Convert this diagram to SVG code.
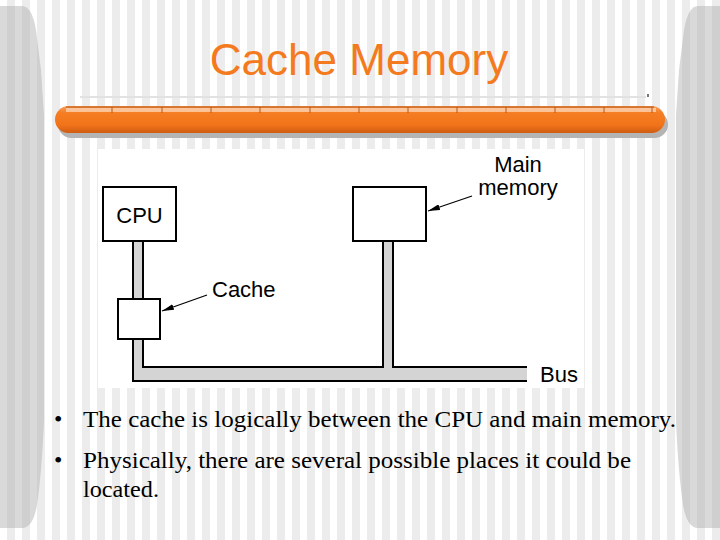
<svg xmlns="http://www.w3.org/2000/svg" width="720" height="540" viewBox="0 0 720 540">
<defs>
<pattern id="bgStripes" x="0" y="0" width="15" height="10" patternUnits="userSpaceOnUse">
<rect width="15" height="10" fill="#ffffff"/>
<rect x="7" width="8" height="10" fill="#ececec"/>
</pattern>
<pattern id="sideStripes" x="0" y="0" width="15" height="10" patternUnits="userSpaceOnUse">
<rect width="15" height="10" fill="#d9d9d9"/>
<rect x="7" width="8" height="10" fill="#cfcfcf"/>
</pattern>
<linearGradient id="barGrad" x1="0" y1="0" x2="0" y2="1">
<stop offset="0" stop-color="#f8a060"/>
<stop offset="0.25" stop-color="#f57d22"/>
<stop offset="0.7" stop-color="#f2741a"/>
<stop offset="1" stop-color="#cf5c10"/>
</linearGradient>
<marker id="arrow" viewBox="0 0 12 6" refX="12" refY="3" markerWidth="12" markerHeight="6" markerUnits="userSpaceOnUse" orient="auto">
<path d="M0,0 L12,3 L0,6 Z" fill="#000"/>
</marker>
<style>
.box{fill:#ffffff;stroke:#000;stroke-width:2}
.lbl{font-family:"Liberation Sans",Arial,sans-serif;font-size:22px;fill:#000}
.bus{fill:#d4d4d4;stroke:none}
.busline{fill:none;stroke:#000;stroke-width:2}
.ptr{fill:none;stroke:#000;stroke-width:1.2;marker-end:url(#arrow)}
.body{font-family:"Liberation Serif","Times New Roman",serif;font-size:24px;fill:#000}
.tick{stroke:#c0560c;stroke-width:1}
</style>
</defs>

<g id="background">
<rect width="720" height="540" fill="url(#bgStripes)"/>
<path d="M0,6 L22,6 Q32,6 36,30 L41,70 L44,115 L44,420 Q42,470 37,505 Q33,528 22,528 L0,528 Z" fill="url(#sideStripes)"/>
<path d="M720,6 L698,6 Q688,6 684,30 L679,70 L676,115 L676,420 Q678,470 683,505 Q687,528 698,528 L720,528 Z" fill="url(#sideStripes)"/>
</g>

<g id="title">
<text x="359" y="75" text-anchor="middle" font-family="'Liberation Sans',Arial,sans-serif" font-size="44" fill="#f47a20">Cache Memory</text>
</g>

<g id="title-bar">
<line x1="80" y1="97" x2="646" y2="97" stroke="#e2e2e2" stroke-width="2"/>
<rect x="647" y="94" width="2" height="3" fill="#777"/>
<rect x="58" y="111" width="610" height="27" rx="13.5" fill="#b4b4b4"/>
<rect x="55" y="106" width="610" height="27" rx="13.5" fill="url(#barGrad)"/>
<line x1="66" y1="107" x2="654" y2="107" stroke="#b8520a" stroke-width="1"/>
<rect x="66" y="108" width="590" height="4" fill="#fcd2b0" opacity="0.8"/>
<g class="tick">
<line x1="112" y1="107" x2="112" y2="113"/>
<line x1="162" y1="107" x2="162" y2="113"/>
<line x1="211" y1="107" x2="211" y2="113"/>
<line x1="260" y1="107" x2="260" y2="113"/>
<line x1="310" y1="107" x2="310" y2="113"/>
<line x1="359" y1="107" x2="359" y2="113"/>
<line x1="408" y1="107" x2="408" y2="113"/>
<line x1="457" y1="107" x2="457" y2="113"/>
<line x1="506" y1="107" x2="506" y2="113"/>
<line x1="555" y1="107" x2="555" y2="113"/>
<line x1="604" y1="107" x2="604" y2="113"/>
<line x1="652" y1="107" x2="652" y2="113"/>
</g>
</g>

<g id="figure-panel">
<rect x="98" y="149" width="486" height="239" fill="#ffffff"/>
</g>

<g id="connectors">
<path class="bus" d="M133,241 L143,241 L143,367 L383,367 L383,241 L393,241 L393,367 L527,367 L527,381 L133,381 Z"/>
<path class="busline" d="M133,241 V381 H527"/>
<path class="busline" d="M143,241 V367 H383 V241"/>
<path class="busline" d="M393,241 V367 H527"/>
<line class="ptr" x1="207" y1="295" x2="162" y2="311"/>
<line class="ptr" x1="472" y1="196" x2="428" y2="211"/>
</g>

<g id="cpu">
<rect class="box" x="103" y="187" width="73" height="54"/>
<text class="lbl" x="139.5" y="223" text-anchor="middle">CPU</text>
</g>

<g id="cache">
<rect class="box" x="118" y="299" width="42" height="40"/>
<text class="lbl" x="212" y="297">Cache</text>
</g>

<g id="main-memory">
<rect class="box" x="353" y="187" width="73" height="54"/>
<text class="lbl" x="518" y="172" text-anchor="middle">Main</text>
<text class="lbl" x="518" y="195" text-anchor="middle">memory</text>
</g>

<g id="bus-label">
<text class="lbl" x="540" y="382">Bus</text>
</g>

<g id="bullets">
<text class="body" x="54" y="427">•</text>
<text class="body" x="83" y="427" textLength="593" lengthAdjust="spacingAndGlyphs">The cache is logically between the CPU and main memory.</text>
<text class="body" x="54" y="468">•</text>
<text class="body" x="83" y="468" textLength="548" lengthAdjust="spacingAndGlyphs">Physically, there are several possible places it could be</text>
<text class="body" x="83" y="497" textLength="76" lengthAdjust="spacingAndGlyphs">located.</text>
</g>
</svg>
